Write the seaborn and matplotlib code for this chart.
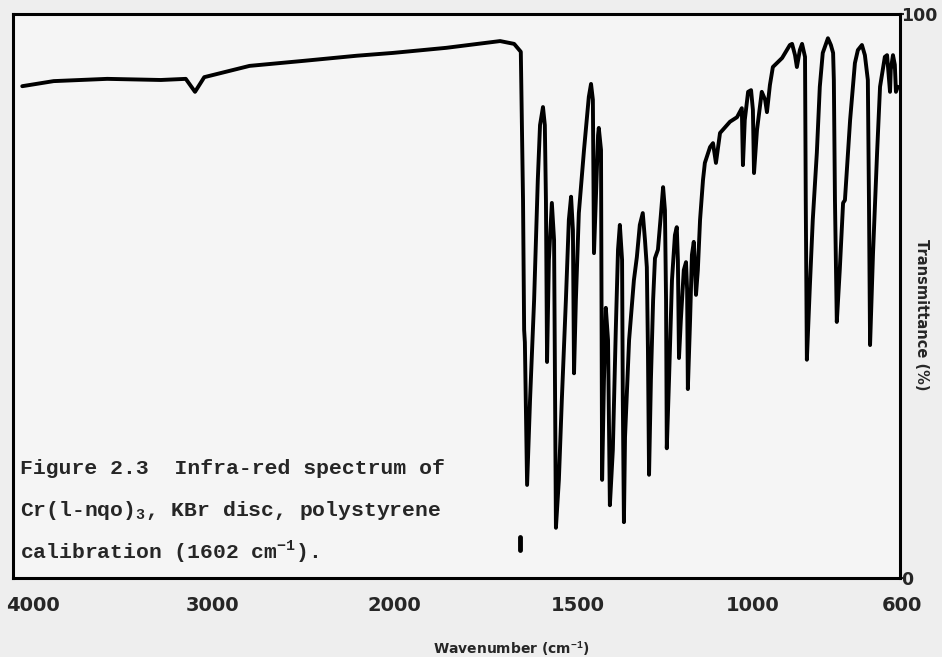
import numpy as np
import pandas as pd
import seaborn as sns
from matplotlib import pyplot as plt
from matplotlib import transforms

# values
wavenumber = [3950, 3780, 3490, 3200, 3065, 3015, 2965, 2720, 2425, 2140,
              1972, 1828, 1682, 1644, 1626, 1620, 1617, 1615, 1609, 1601,
              1590, 1580, 1574, 1566, 1561, 1558, 1555, 1550, 1542, 1536,
              1534, 1531, 1523, 1515, 1504, 1496, 1490, 1485, 1482, 1477,
              1469, 1455, 1442, 1436, 1431, 1428, 1423, 1417, 1415, 1409,
              1406, 1401, 1396, 1390, 1385, 1377, 1369, 1363, 1358, 1352,
              1350, 1347, 1344, 1333, 1320, 1312, 1304, 1296, 1290, 1285,
              1282, 1279, 1274, 1268, 1263, 1255, 1247, 1241, 1236, 1233,
              1231, 1225, 1217, 1209, 1204, 1201, 1198, 1193, 1185, 1179,
              1176, 1174, 1168, 1163, 1158, 1155, 1152, 1147, 1141, 1133,
              1128, 1114, 1106, 1098, 1087, 1060, 1041, 1028, 1025, 1020,
              1011, 1003, 998, 995, 987, 974, 965, 960, 952, 944,
              919, 898, 892, 884, 879, 871, 865, 857, 855, 852,
              844, 836, 825, 817, 809, 795, 787, 781, 779, 776,
              771, 763, 754, 749, 735, 722, 714, 703, 695, 689,
              687, 684, 681, 673, 662, 654, 641, 635, 627, 625,
              619, 614, 611, 606]

transmittance = [87.2, 88.1, 88.5, 88.3, 88.5, 86.2, 88.8, 90.8, 91.7, 92.6,
                 93.1, 94.0, 95.2, 94.7, 93.3, 67.0, 44.0, 41.8, 16.5, 31.6,
                 49.3, 70.6, 80.3, 83.5, 80.3, 67.0, 38.3, 56.4, 66.5, 59.9,
                 40.4, 8.9, 17.4, 31.6, 49.3, 63.5, 67.6, 61.7, 36.3, 49.3,
                 64.7, 75.9, 85.3, 87.6, 84.8, 57.6, 67.0, 78.5, 79.8, 75.9,
                 17.4, 35.1, 47.9, 42.2, 12.9, 22.7, 44.0, 58.2, 62.6, 56.4,
                 31.6, 9.9, 25.0, 42.2, 52.8, 56.9, 62.6, 64.7, 59.9, 55.1,
                 40.4, 18.3, 35.1, 49.3, 56.7, 58.2, 64.4, 69.3, 65.2, 49.3,
                 23.0, 35.1, 52.8, 60.8, 62.2, 56.4, 39.0, 45.7, 54.6, 56.0,
                 51.1, 33.5, 45.7, 57.3, 59.6, 55.5, 50.2, 54.6, 63.5, 70.6,
                 73.6, 76.4, 77.1, 73.6, 78.9, 80.9, 81.7, 83.3, 73.2, 81.2,
                 86.2, 86.5, 83.0, 71.8, 79.4, 86.2, 84.8, 82.6, 87.4, 90.6,
                 92.2, 94.5, 94.7, 92.7, 90.6, 93.6, 94.7, 92.4, 67.0, 38.7,
                 51.6, 63.5, 75.4, 87.1, 93.1, 95.7, 94.5, 93.1, 88.3, 67.0,
                 45.4, 54.6, 66.5, 67.0, 81.2, 91.3, 93.6, 94.5, 92.7, 89.5,
                 88.3, 67.0, 41.3, 57.6, 75.4, 87.1, 92.4, 92.7, 86.2, 90.1,
                 92.7, 91.0, 86.2, 87.1]

# polystyrene calibration mark (1602 cm-1)
cal_wn = [1628, 1628]
cal_T = [7.3, 5.0]

x_ticks = [4000, 3000, 2000, 1500, 1000, 600]
x_tick_labels = ['4000', '3000', '2000', '1500', '1000', '600']
y_ticks = [0, 100]
y_tick_labels = ['0', '100']

caption = ["Figure 2.3  Infra-red spectrum of",
           r"Cr(l-nqo)$_{\mathbf{3}}$, KBr disc, polystyrene",
           r"calibration (1602 cm$^{\mathbf{-1}}$)."]


# chart paper: scale doubles below 2000 cm-1
def forward(w):
    w = np.asarray(w, dtype=float)
    return np.where(w < 2000, (w - 600) / 500.0, 2.8 + (w - 2000) / 1000.0)


def inverse(f):
    f = np.asarray(f, dtype=float)
    return np.where(f < 2.8, 600 + 500.0 * f, 2000 + 1000.0 * (f - 2.8))


sns.set_style("white")
plt.rcParams['font.family'] = ['DejaVu Sans']
plt.rcParams['mathtext.fontset'] = 'custom'
plt.rcParams['mathtext.rm'] = 'Liberation Mono'
plt.rcParams['mathtext.bf'] = 'Liberation Mono:bold'

fig = plt.figure(figsize=(9.42, 6.57), dpi=100, facecolor='#eeeeee')
ax = fig.add_axes([13 / 942, 1 - 578 / 657, 887 / 942, 564 / 657])
ax.set_facecolor('#f5f5f5')

df = pd.DataFrame({'wn': wavenumber, 'T': transmittance})
sns.lineplot(data=df, x='wn', y='T', sort=False, estimator=None,
             color='black', linewidth=2.8, ax=ax)
ax.plot(cal_wn, cal_T, color='black', linewidth=3.5, solid_capstyle='round')

ax.set_xscale('function', functions=(forward, inverse))
ax.set_xlim(4000, 600)
ax.set_ylim(0, 100)

for side in ['left', 'right', 'top', 'bottom']:
    ax.spines[side].set_visible(True)
    ax.spines[side].set_color('black')
    ax.spines[side].set_linewidth(2.2)

ax.set_xticks(x_ticks)
ax.set_xticklabels(x_tick_labels, fontweight='bold', fontsize=14)
ax.tick_params(axis='x', direction='out', length=4, width=1.5, pad=9)
# the printed labels sit a little right of their ticks
shifts = [20, 15, 12, 10, 1, 2]
for lab, dx in zip(ax.get_xticklabels(), shifts):
    lab.set_transform(lab.get_transform() +
                      transforms.ScaledTranslation(dx / 100, 0, fig.dpi_scale_trans))

ax.yaxis.tick_right()
ax.set_yticks(y_ticks)
ax.set_yticklabels(y_tick_labels, fontweight='bold', fontsize=12.5)
ax.tick_params(axis='y', direction='out', length=3, width=1.5, pad=-2)

ax.set_xlabel(r"Wavenumber (cm$^{\mathbf{-1}}$)", fontweight='bold', fontsize=10)
ax.xaxis.set_label_coords(0.562, -0.108)
ax.text(1.016, 0.466, "Transmittance (%)", transform=ax.transAxes,
        rotation=270, ha='left', va='center', fontweight='bold', fontsize=10.5)

for i, line in enumerate(caption):
    ax.text(0.008, 0.195 - i * 0.075, line, transform=ax.transAxes,
            fontfamily=['Liberation Mono', 'DejaVu Sans Mono'],
            fontweight='bold', fontsize=15.4, va='center', ha='left')

ax.set_ylabel('')
plt.savefig('out.png', dpi=100, facecolor=fig.get_facecolor())
